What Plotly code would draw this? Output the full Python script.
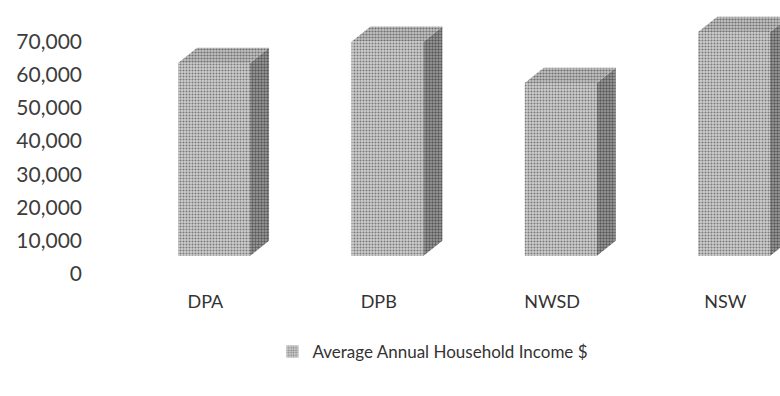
import plotly.graph_objects as go

# Average annual household income by area
categories = ["DPA", "DPB", "NWSD", "NSW"]
income = [58300, 64700, 52300, 67700]
tick_values = [0, 10000, 20000, 30000, 40000, 50000, 60000, 70000]
tick_labels = ["0", "10,000", "20,000", "30,000", "40,000", "50,000", "60,000", "70,000"]
series_name = "Average Annual Household Income $"

# Geometry of the pseudo-3D columns (category units / value units)
BAR_W = 0.415
DEPTH_X = 0.11
DEPTH_Y = 4600
LABEL_SHIFT = -0.05

FAMILY = "Lato, 'Open Sans', sans-serif"
TEXT = "#333333"

pos = list(range(len(categories)))

front = go.Bar(
    x=pos, y=income, width=BAR_W, name=series_name, yaxis="y",
    marker=dict(
        color="#b8b8b8",
        line=dict(width=0),
        pattern=dict(shape=".", fgcolor="#262626", bgcolor="#cdcdcd",
                     size=3, solidity=0.36),
    ),
    hoverinfo="skip",
)

# Top and side faces built from each column's value
tx, ty, sx, sy = [], [], [], []
for p, v in zip(pos, income):
    l, r = p - BAR_W / 2, p + BAR_W / 2
    tx += [l, l + DEPTH_X, r + DEPTH_X, r, l, None]
    ty += [v, v + DEPTH_Y, v + DEPTH_Y, v, v, None]
    sx += [r, r + DEPTH_X, r + DEPTH_X, r, r, None]
    sy += [v, v + DEPTH_Y, DEPTH_Y, 0, v, None]

top = go.Scatter(
    x=tx, y=ty, mode="lines", fill="toself", line=dict(width=0),
    fillcolor="#a8a8a8",
    fillpattern=dict(shape=".", fgcolor="#1e1e1e", bgcolor="#c2c2c2",
                     size=3, solidity=0.42),
    showlegend=False, hoverinfo="skip", yaxis="y",
)
side = go.Scatter(
    x=sx, y=sy, mode="lines", fill="toself", line=dict(width=0),
    fillcolor="#808080",
    fillpattern=dict(shape=".", fgcolor="#101010", bgcolor="#a2a2a2",
                     size=3, solidity=0.52),
    showlegend=False, hoverinfo="skip", yaxis="y",
)

# Invisible trace carrying the value-axis labels on the front plane
labels = go.Scatter(x=[pos[0]], y=[0], mode="markers", opacity=0,
                    showlegend=False, hoverinfo="skip", yaxis="y2")

fig = go.Figure([side, top, front, labels])

PX_PER_UNIT = 3.31 / 1000
PLOT_H = 280          # plot area height in px (from top of page)
BASE_PX = 256         # floor line of the columns
LABEL_ZERO_PX = 273.5 # zero of the value-axis labels

fig.update_layout(
    width=780, height=396,
    margin=dict(l=110, r=0, t=0, b=396 - PLOT_H),
    paper_bgcolor="white", plot_bgcolor="white",
    font=dict(family=FAMILY, size=18, color=TEXT),
    showlegend=True,
    legend=dict(orientation="h", x=0.482, xanchor="center",
                y=(PLOT_H - 352) / PLOT_H, yanchor="middle",
                font=dict(family=FAMILY, size=17, color=TEXT)),
    xaxis=dict(
        range=[-0.600, 3.265], showgrid=False, zeroline=False, showline=False,
        tickmode="array", tickvals=[p + LABEL_SHIFT for p in pos],
        ticktext=categories, ticks="", ticklabelstandoff=9,
        tickfont=dict(family=FAMILY, size=18, color=TEXT),
    ),
    yaxis=dict(
        range=[-(PLOT_H - BASE_PX) / PX_PER_UNIT, BASE_PX / PX_PER_UNIT],
        showgrid=False, zeroline=False, showline=False, showticklabels=False,
    ),
    yaxis2=dict(
        range=[-(PLOT_H - LABEL_ZERO_PX) / PX_PER_UNIT, LABEL_ZERO_PX / PX_PER_UNIT],
        overlaying="y", side="left", anchor="x",
        showgrid=False, zeroline=False, showline=False,
        tickmode="array", tickvals=tick_values, ticktext=tick_labels,
        ticks="", ticklabelstandoff=27,
        tickfont=dict(family=FAMILY, size=21, color="#3c3c3c"),
    ),
)

fig.write_html("out.html")
